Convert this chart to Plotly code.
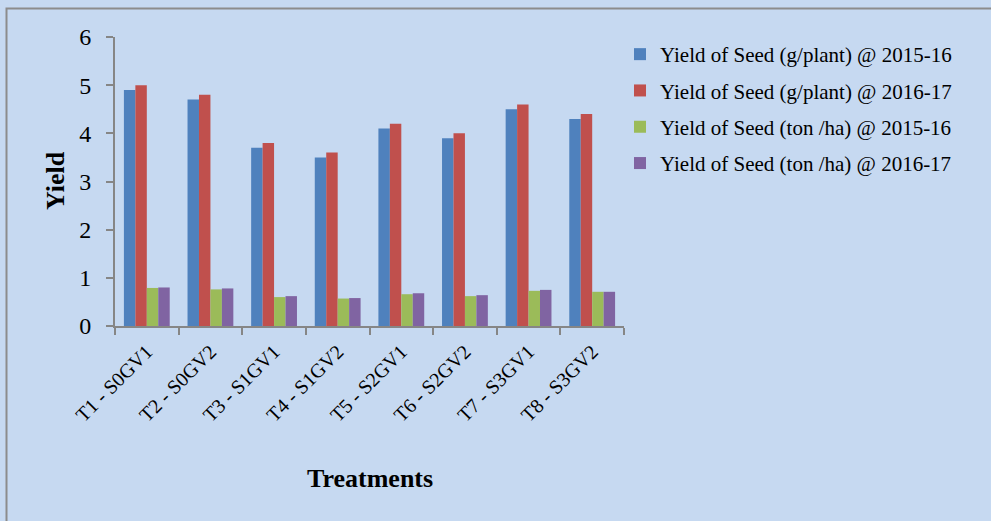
import plotly.graph_objects as go

# Treatments and seed-yield values for two seasons
treatments = ["T1 - S0GV1", "T2 - S0GV2", "T3 - S1GV1", "T4 - S1GV2",
              "T5 - S2GV1", "T6 - S2GV2", "T7 - S3GV1", "T8 - S3GV2"]
seed_gplant_1516 = [4.9, 4.7, 3.7, 3.5, 4.1, 3.9, 4.5, 4.3]
seed_gplant_1617 = [5.0, 4.8, 3.8, 3.6, 4.2, 4.0, 4.6, 4.4]
seed_tonha_1516 = [0.79, 0.76, 0.60, 0.57, 0.66, 0.62, 0.73, 0.71]
seed_tonha_1617 = [0.80, 0.78, 0.62, 0.58, 0.68, 0.64, 0.75, 0.71]

series_names = ["Yield of Seed (g/plant) @ 2015-16",
                "Yield of Seed (g/plant) @ 2016-17",
                "Yield of Seed (ton /ha) @ 2015-16",
                "Yield of Seed (ton /ha) @ 2016-17"]
series_values = [seed_gplant_1516, seed_gplant_1617, seed_tonha_1516, seed_tonha_1617]
series_colors = ["#4F81BD", "#C0504D", "#9BBB59", "#8064A2"]

FONT = "Liberation Serif, Times New Roman, serif"
BG = "#C6D9F1"
AXIS = "#868686"

fig = go.Figure()
for i, (name, vals, col) in enumerate(zip(series_names, series_values, series_colors)):
    fig.add_trace(go.Bar(
        x=treatments, y=vals, name=name, legendgroup=f"g{i}",
        marker=dict(color=col, line=dict(width=0)),
    ))

W, H = 991, 521
L, R, T, B = 115, 367, 37, 195
pw, ph = W - L - R, H - T - B

def px(x):
    return (x - L) / pw

def py(y):
    return (H - B - y) / ph

fig.update_layout(
    width=W, height=H,
    margin=dict(l=L, r=R, t=T, b=B, pad=0),
    paper_bgcolor=BG, plot_bgcolor=BG,
    font=dict(family=FONT, color="black"),
    barmode="group", bargap=0.28, bargroupgap=0,
    showlegend=True,
    legend=dict(
        x=px(620), y=py(34), xanchor="left", yanchor="top",
        bgcolor="rgba(0,0,0,0)", font=dict(size=21, family=FONT),
        tracegroupgap=6, itemwidth=30,
    ),
    xaxis=dict(
        showgrid=False, zeroline=False,
        showline=True, linecolor=AXIS, linewidth=2,
        ticks="outside", tickson="boundaries", ticklen=7, tickwidth=2, tickcolor=AXIS,
        tickangle=-45, tickfont=dict(size=20, family=FONT), ticklabelstandoff=4,
        automargin=False,
    ),
    yaxis=dict(
        range=[0, 6], dtick=1, showgrid=False, zeroline=False,
        showline=True, linecolor=AXIS, linewidth=2,
        ticks="outside", ticklen=7, tickwidth=2, tickcolor=AXIS,
        tickfont=dict(size=24, family=FONT), ticklabelstandoff=10,
        automargin=False,
    ),
    annotations=[
        dict(text="<b>Treatments</b>", x=px(370), y=py(478), xref="paper", yref="paper",
             xanchor="center", yanchor="middle", showarrow=False,
             font=dict(size=26, family=FONT)),
        dict(text="<b>Yield</b>", x=px(55), y=py(181), xref="paper", yref="paper",
             xanchor="center", yanchor="middle", showarrow=False, textangle=-90,
             font=dict(size=26, family=FONT)),
    ],
    shapes=[
        dict(type="rect", xref="paper", yref="paper",
             x0=px(6.5), x1=px(1200), y0=py(900), y1=py(8.5),
             line=dict(color="#8C8C8C", width=2), fillcolor="rgba(0,0,0,0)", layer="below"),
    ],
)

fig.write_html("out.html")
